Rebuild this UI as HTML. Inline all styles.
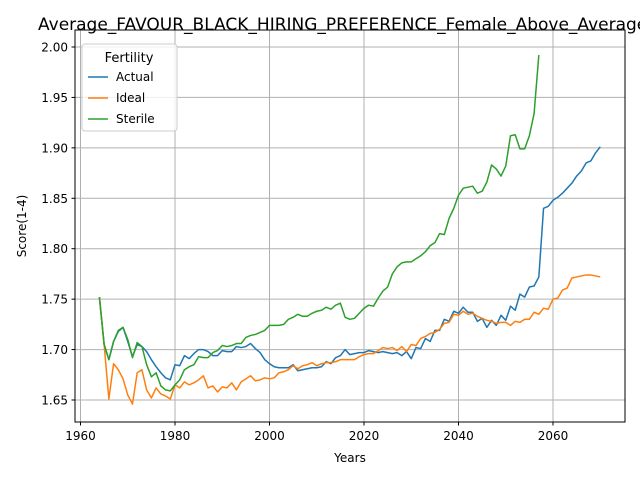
<!DOCTYPE html>
<html><head><meta charset="utf-8"><style>
body{margin:0;background:#fff;font-family:"Liberation Sans","DejaVu Sans",sans-serif;}
svg text{font-family:"DejaVu Sans","Liberation Sans",sans-serif;}
</style></head><body>
<svg id="c" width="640" height="480" viewBox="0 0 640 480" xmlns="http://www.w3.org/2000/svg">
<rect width="640" height="480" fill="#fff"/>
<g id="grid"></g>
<g id="series"></g>
<rect x="75" y="30" width="550" height="392" fill="none" stroke="#000" stroke-width="1"/>
<g id="ticks"></g>
<text x="38" y="30" font-size="17">Average_FAVOUR_BLACK_HIRING_PREFERENCE_Female_Above_Average_</text>
<text x="350" y="462" font-size="12" text-anchor="middle">Years</text>
<text transform="translate(26,226) rotate(-90)" font-size="12" text-anchor="middle">Score(1-4)</text>
<g>
<rect x="82" y="44" width="95" height="87" rx="3" fill="#fff" fill-opacity="0.8" stroke="#ccc"/>
<text x="129" y="62" font-size="13" text-anchor="middle">Fertility</text>
<line x1="88" y1="77" x2="108" y2="77" stroke="#1f77b4" stroke-width="1.5"/><text x="116" y="81" font-size="12">Actual</text>
<line x1="88" y1="98" x2="108" y2="98" stroke="#ff7f0e" stroke-width="1.5"/><text x="116" y="102" font-size="12">Ideal</text>
<line x1="88" y1="119" x2="108" y2="119" stroke="#2ca02c" stroke-width="1.5"/><text x="116" y="123" font-size="12">Sterile</text>
</g>
</svg>
<script>
const startYear = 1964;
const actual = [1.752,1.705,1.690,1.708,1.718,1.722,1.708,1.693,1.705,1.703,1.698,1.690,1.683,1.677,1.672,1.670,1.685,1.684,1.694,1.691,1.696,1.700,1.700,1.698,1.694,1.694,1.699,1.698,1.698,1.703,1.702,1.703,1.706,1.701,1.697,1.690,1.686,1.683,1.682,1.682,1.682,1.685,1.679,1.680,1.681,1.682,1.682,1.683,1.688,1.686,1.692,1.694,1.700,1.695,1.696,1.697,1.697,1.699,1.698,1.697,1.698,1.697,1.696,1.697,1.694,1.698,1.691,1.702,1.701,1.711,1.708,1.719,1.719,1.730,1.728,1.738,1.736,1.742,1.737,1.737,1.728,1.731,1.722,1.729,1.724,1.734,1.729,1.743,1.739,1.755,1.752,1.762,1.763,1.772,1.840,1.842,1.848,1.851,1.855,1.860,1.865,1.872,1.877,1.885,1.887,1.895,1.901];
const ideal = [1.752,1.705,1.651,1.686,1.680,1.671,1.655,1.646,1.677,1.680,1.660,1.652,1.662,1.656,1.654,1.651,1.665,1.662,1.668,1.665,1.667,1.670,1.674,1.662,1.664,1.658,1.663,1.662,1.667,1.660,1.668,1.671,1.674,1.669,1.670,1.672,1.671,1.672,1.677,1.678,1.680,1.684,1.681,1.684,1.685,1.687,1.684,1.686,1.687,1.687,1.688,1.690,1.690,1.690,1.690,1.693,1.695,1.696,1.696,1.699,1.702,1.701,1.702,1.699,1.703,1.698,1.705,1.704,1.711,1.713,1.716,1.717,1.720,1.726,1.727,1.735,1.734,1.738,1.735,1.736,1.733,1.731,1.729,1.728,1.726,1.727,1.727,1.724,1.728,1.727,1.730,1.730,1.737,1.735,1.741,1.740,1.750,1.751,1.759,1.761,1.771,1.772,1.773,1.774,1.774,1.773,1.772];
const sterile = [1.752,1.705,1.690,1.708,1.719,1.722,1.710,1.692,1.707,1.703,1.685,1.673,1.677,1.664,1.660,1.659,1.665,1.670,1.680,1.683,1.685,1.693,1.692,1.692,1.697,1.699,1.704,1.703,1.704,1.706,1.706,1.712,1.714,1.715,1.717,1.719,1.724,1.724,1.724,1.725,1.730,1.732,1.735,1.733,1.733,1.736,1.738,1.739,1.742,1.740,1.744,1.746,1.732,1.730,1.731,1.736,1.741,1.744,1.743,1.751,1.758,1.762,1.775,1.782,1.786,1.787,1.787,1.790,1.793,1.797,1.803,1.806,1.815,1.814,1.830,1.840,1.853,1.860,1.861,1.862,1.855,1.857,1.866,1.883,1.879,1.872,1.882,1.912,1.913,1.899,1.899,1.912,1.934,1.992];
const xTicks = [1960,1980,2000,2020,2040,2060];
const yTicks = [1.65,1.70,1.75,1.80,1.85,1.90,1.95,2.00];
const yTickLabels = ["1.65","1.70","1.75","1.80","1.85","1.90","1.95","2.00"];

const NS="http://www.w3.org/2000/svg";
function xs(y){return 80.5+(y-1960)*94.5/20;}
function ys(v){return 400-(v-1.65)*353/0.35;}
function mk(tag,attrs,parent){const e=document.createElementNS(NS,tag);for(const k in attrs)e.setAttribute(k,attrs[k]);parent.appendChild(e);return e;}
const grid=document.getElementById('grid'),ticks=document.getElementById('ticks'),ser=document.getElementById('series');
xTicks.forEach(t=>{const x=xs(t);
 const g=mk('line',{x1:x,x2:x,y1:30,y2:422,stroke:'#b0b0b0','stroke-width':1},grid);
 
 
 mk('line',{x1:x,x2:x,y1:422,y2:425.5,stroke:'#000'},ticks);
 const l=mk('text',{x:x,y:440,'font-size':12,'text-anchor':'middle'},ticks);l.textContent=t;
 
 
});
yTicks.forEach((t,i)=>{const y=ys(t);
 const g=mk('line',{x1:75,x2:625,y1:y,y2:y,stroke:'#b0b0b0','stroke-width':1},grid);
 
 
 mk('line',{x1:71.5,x2:75,y1:y,y2:y,stroke:'#000'},ticks);
 const l=mk('text',{x:68,y:y+4.5,'font-size':12,'text-anchor':'end'},ticks);l.textContent=yTickLabels[i];
 
 
});
function line(data,color,name){
 const pts=data.map((v,i)=>xs(startYear+i).toFixed(2)+','+ys(v).toFixed(2)).join(' ');
 const p=mk('polyline',{points:pts,fill:'none',stroke:color,'stroke-width':1.5,'stroke-linejoin':'round'},ser);
 
 
}
line(actual,'#1f77b4','actual-line');
line(ideal,'#ff7f0e','ideal-line');
line(sterile,'#2ca02c','sterile-line');
</script>
</body></html>
